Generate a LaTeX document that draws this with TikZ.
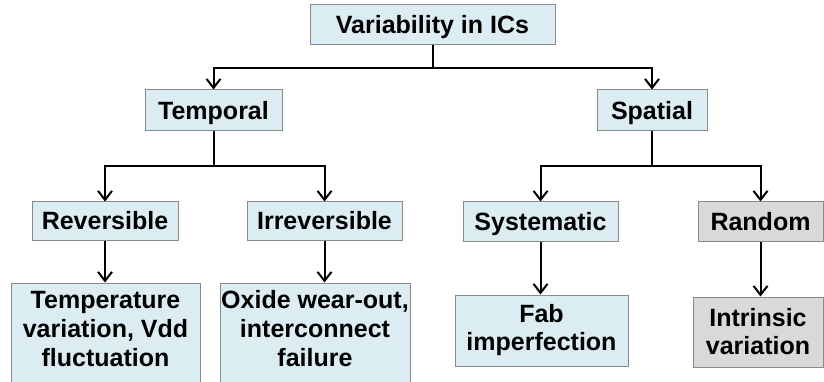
\documentclass[tikz,border=0pt]{standalone}
\usepackage{fontspec}
\setmainfont{Liberation Sans}
\usetikzlibrary{arrows.meta}

\definecolor{paleblue}{HTML}{DBEDF3}
\definecolor{palegray}{HTML}{D9D9D9}
\definecolor{edgegray}{HTML}{8A8A8A}

\tikzset{
  box/.style={draw=edgegray, line width=1pt, fill=paleblue, inner sep=0pt,
              font=\fontsize{25}{28}\selectfont\bfseries, align=center},
  onebox/.style={box, text height=17.9pt, text depth=0pt},
  graybox/.style={fill=palegray},
  boxtext/.style={inner sep=0pt, font=\fontsize{25}{29}\selectfont\bfseries, align=center},
  conn/.style={line width=2pt, black},
  arr/.style={conn, -{Straight Barb[length=9pt, width=14pt, line width=2pt]}},
}

% rectangle node from its pixel corners (x1,y1)-(x2,y2)
\newcommand{\pbox}[7][box]{%
  \node[#1, minimum width={(#5-#3)*1pt}, minimum height={(#6-#4)*1pt}]
    (#2) at ({(#3+#5)/2}, {(#4+#6)/2}) {#7};}

\begin{document}
\begin{tikzpicture}[x=1pt, y=-1pt]
  \useasboundingbox (0,0) rectangle (824,382);
  \clip (0,0) rectangle (824,382);

  % root
  \pbox[onebox]{root}{310}{5}{555}{45}{Variability in ICs}

  % second level
  \pbox[onebox]{temporal}{145}{90}{282}{131}{Temporal}
  \pbox[onebox]{spatial}{597}{90}{707}{131}{Spatial}

  % third level
  \pbox[onebox]{reversible}{32}{202}{178}{240}{Reversible}
  \pbox[onebox]{irreversible}{247}{202}{402}{240}{Irreversible}
  \pbox[onebox]{systematic}{463}{202}{618}{241}{Systematic}
  \pbox[onebox,graybox]{random}{698}{202}{823}{241}{Random}

  % leaves (the two left boxes run past the lower edge)
  \pbox{tempbox}{11}{283}{200}{400}{}
  \node[boxtext] (temptext) at (105.5,329) {Temperature\\variation, Vdd\\fluctuation};
  \pbox{oxidebox}{220}{283}{410}{400}{}
  \node[boxtext] (oxidetext) at (315,329) {Oxide wear-out,\\interconnect\\failure};
  \pbox{fab}{455}{295}{628}{366}{Fab\\imperfection}
  \pbox[box,graybox]{intrinsic}{693}{297}{823}{367}{Intrinsic\\variation}

  % connectors
  \coordinate (rootsplit) at (432.5,68);
  \draw[conn] (root.south) -- (rootsplit);
  \draw[arr] (rootsplit) -| (temporal.north);
  \draw[arr] (rootsplit) -| (spatial.north);

  \coordinate (tsplit) at (213.5,166);
  \draw[conn] (temporal.south) -- (tsplit);
  \draw[arr] (tsplit) -| (reversible.north);
  \draw[arr] (tsplit) -| (irreversible.north);

  \coordinate (ssplit) at (652,166);
  \draw[conn] (spatial.south) -- (ssplit);
  \draw[arr] (ssplit) -| (systematic.north);
  \draw[arr] (ssplit) -| (random.north);

  \draw[arr] (reversible.south) -- (reversible.south |- tempbox.north);
  \draw[arr] (irreversible.south) -- (irreversible.south |- oxidebox.north);
  \draw[arr] (systematic.south) -- (systematic.south |- fab.north);
  \draw[arr] (random.south) -- (random.south |- intrinsic.north);
\end{tikzpicture}
\end{document}
